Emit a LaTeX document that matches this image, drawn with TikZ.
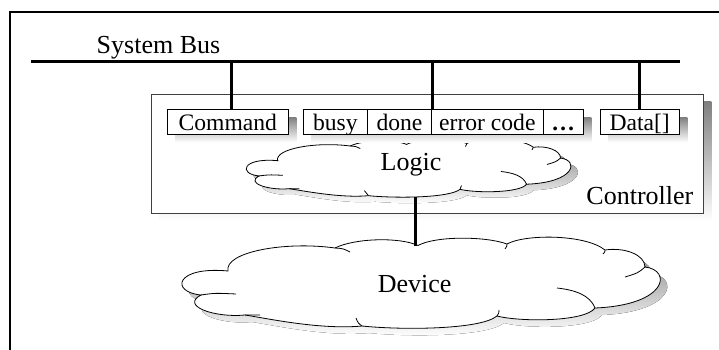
\documentclass[tikz,border=0pt]{standalone}
\usepackage{fontspec}
\setmainfont{Liberation Serif}
\definecolor{shade}{RGB}{128,128,128}
\tikzset{
  bigtext/.style={font=\fontsize{26}{30}\selectfont, inner sep=0pt},
  regbox/.style={draw=black, line width=0.8pt, fill=white,
    font=\fontsize{23.6}{28}\selectfont, inner xsep=0pt, inner ysep=0pt,
    text height=20.6pt, text depth=3pt, minimum height=25pt},
  ctrlbox/.style={draw=black!75, line width=0.8pt, fill=white, inner sep=0pt},
  busline/.style={line width=3pt},
  outline/.style={line width=0.8pt},
  % cloud outline, drawn in its own frame (x 183..657, y 237..328)
  puffpath/.style={insert path={(228,271) .. controls (224,252) and (285,241) .. (335,248)
    .. controls (355,238) and (400,237) .. (418,245.5)
    .. controls (435,236) and (485,236) .. (507,244)
    .. controls (525,234) and (585,234) .. (605,250)
    .. controls (625,247) and (645,255) .. (645,267)
    .. controls (672,270) and (668,305) .. (595,308)
    .. controls (585,322) and (520,322) .. (497,316)
    .. controls (480,330) and (400,330) .. (362,326)
    .. controls (320,330) and (265,318) .. (245,315)
    .. controls (215,318) and (180,306) .. (201,295)
    .. controls (170,292) and (175,266) .. cycle}},
  % the short crease lines inside the cloud
  puffcreases/.style={insert path={
    (201,295) .. controls (215,293) .. (236,294)
    (245,315) .. controls (252,315.5) .. (260,315)
    (335,248) .. controls (343,248.5) .. (350,252)
    (362,326) .. controls (358,323) .. (356,318)
    (497,316) .. controls (499,313) .. (499,310)
    (507,244) .. controls (507,246) .. (505,249)
    (605,250) .. controls (605,252) .. (603,254)
    (645,267) .. controls (638,273) .. (625,277)
    (595,308) .. controls (590,295) and (575,290) .. (557,288)}},
}
\begin{document}
\begin{tikzpicture}[x=1pt, y=-1pt]
\useasboundingbox (0,0) rectangle (719,350);

% outer frame
\draw[line width=1.2pt] (10,350) -- (10,12) -- (719,12);

% system bus
\coordinate (busL) at (31,62);
\coordinate (busR) at (680,62);
\draw[busline] (busL) -- (busR);
\node[bigtext, anchor=base west] (buslabel) at (96.5,53.3) {System Bus};

% controller box with shadow
\fill[shade] (159.7,102) rectangle (711.3,221.3);
\node[ctrlbox, minimum width=551.6pt, minimum height=119.3pt] (ctrl) at (427.5,153.65) {};
\node[bigtext, anchor=base east] (ctrllabel) at (693.5,204) {Controller};

% logic cloud
\begin{scope}[shift={(254,145)}, xscale=0.6786, yscale=0.637, shift={(-183,-237)}]
  \fill[shade, puffpath];
\end{scope}
\begin{scope}[shift={(247,139)}, xscale=0.6786, yscale=0.637, shift={(-183,-237)}]
  \filldraw[fill=white, draw=black, outline, puffpath];
  \draw[outline, puffcreases];
\end{scope}
\node[bigtext, anchor=base] (logic) at (411,170) {Logic};

% register shadows
\fill[shade] (175.3,117.3) rectangle (296.3,142.3);
\fill[shade] (311.3,117.3) rectangle (591.3,142.3);
\fill[shade] (608,117.3) rectangle (687.3,142.3);

% registers
\node[regbox, minimum width=121pt] (cmd) at (227.8,121.8) {Command};
\node[regbox, minimum width=64pt] (busy) at (335.3,121.8) {busy};
\node[regbox, minimum width=64.4pt] (done) at (399.5,121.8) {done};
\node[regbox, minimum width=111.3pt] (err) at (487.35,121.8) {error code};
\node[regbox, minimum width=40.3pt] (more) at (563.15,121.8) {\textbf{…}};
\node[regbox, minimum width=79.3pt] (data) at (639.65,121.8) {Data[]};

% bus drops
\draw[busline] ([xshift=4pt]cmd.north) -- ([xshift=4pt]cmd.north |- busL);
\draw[busline] (done.north east) -- (done.north east |- busL);
\draw[busline] (data.north) -- (data.north |- busL);

% device cloud
\begin{scope}[shift={(7,7)}]
  \fill[shade, puffpath];
\end{scope}
\filldraw[fill=white, draw=black, outline, puffpath];
\draw[outline, puffcreases];
\node[bigtext, anchor=base] (device) at (414.7,292.7) {Device};

% logic to device link
\coordinate (logicbot) at (415.7,196.5);
\coordinate (devtop) at (415.7,245.5);
\draw[busline] (logicbot) -- (devtop);
\end{tikzpicture}
\end{document}
